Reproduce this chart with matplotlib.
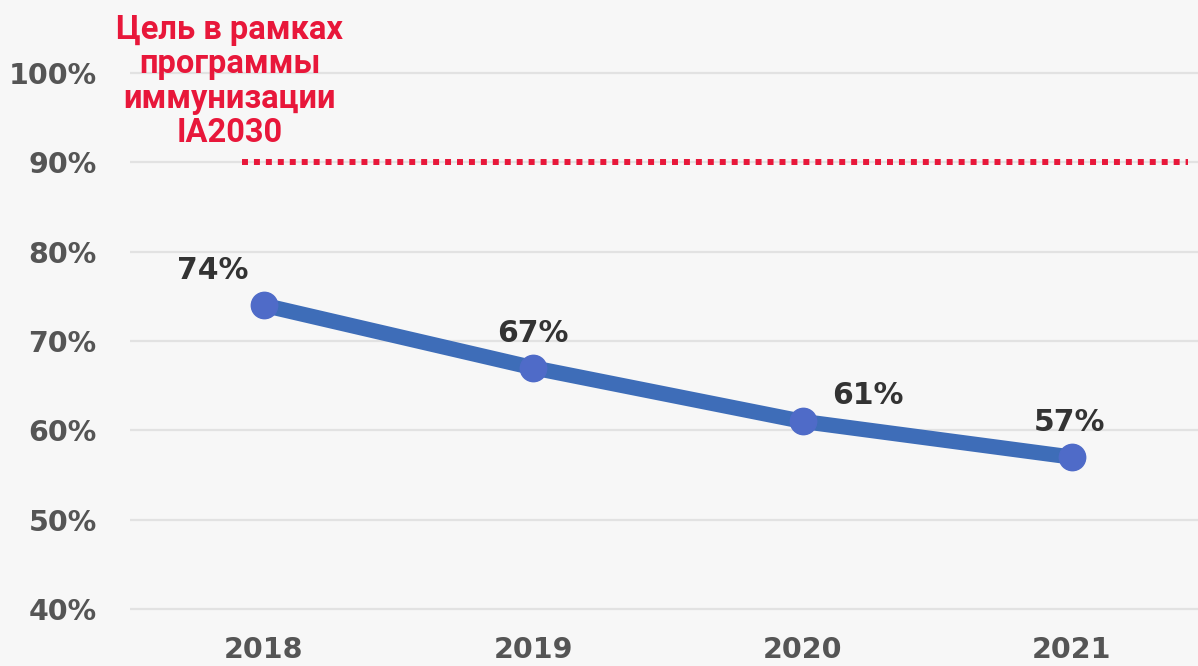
import numpy as np
import matplotlib.pyplot as plt

# data
years = ["2018", "2019", "2020", "2021"]
coverage = [74, 67, 61, 57]
target = 90
yticks = [40, 50, 60, 70, 80, 90, 100]
target_label = "Цель в рамках\nпрограммы\nиммунизации\nIA2030"

# label nudges (points)
label_offsets = [(-37, 25), (0, 25), (47, 19), (-2, 25)]

bg = "#f7f7f7"
fig = plt.figure(figsize=(11.98, 6.66), dpi=100, facecolor=bg)
# axes placed so that 40..100 sits where the reference draws it
ax = fig.add_axes([130 / 1198, 52.5 / 666, 1068 / 1198, 545 / 666], facecolor=bg)
x = np.arange(len(years))

ax.set_ylim(39.5, 100.5)
ax.set_xlim(-0.4975, 3.468)
for s in ax.spines.values():
    s.set_visible(False)

for v in yticks:
    ax.axhline(v, color="#e2e2e2", lw=1.6, zorder=0)

ax.set_yticks(yticks)
ax.set_yticklabels([f"{v}%" for v in yticks])
ax.tick_params(axis="y", length=0, pad=24, labelsize=20.5, labelcolor="#555555")
for t in ax.get_yticklabels():
    t.set_fontweight("bold")

ax.set_xticks(x)
ax.set_xticklabels(years)
ax.tick_params(axis="x", length=0, pad=16, labelsize=20.5, labelcolor="#555555")
for t in ax.get_xticklabels():
    t.set_fontweight("bold")

# target line
ax.plot([-0.08, 3.43], [target, target], color="#e8173a", lw=4.3,
        linestyle=(0, (1, 1)), dash_capstyle="butt", zorder=2)
ax.text(-0.127, 99.05, target_label, ha="center", va="center", color="#e8173a",
        fontsize=23.5, fontweight="bold", family="Roboto", linespacing=1.1,
        clip_on=False)

ax.plot(x, coverage, color="#3e6db8", lw=11, solid_capstyle="round", zorder=3)
ax.plot(x, coverage, "o", color="#4f6bc8", ms=19, zorder=4)

for xi, v, off in zip(x, coverage, label_offsets):
    ax.annotate(f"{v}%", (xi, v), xytext=off, textcoords="offset points",
                ha="center", va="center", fontsize=21.5, fontweight="bold",
                color="#333333")

fig.savefig("out.png", dpi=100, facecolor=bg)
